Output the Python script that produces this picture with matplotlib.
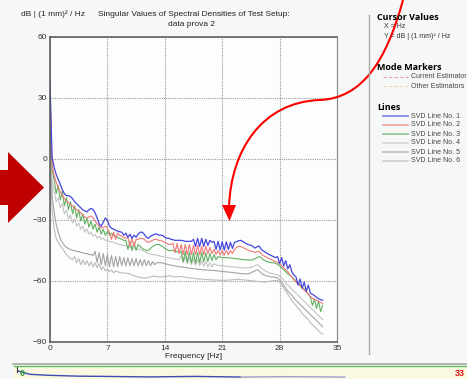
import numpy as np
import matplotlib
matplotlib.use("Agg")
import matplotlib.pyplot as plt
from matplotlib.path import Path
from matplotlib.patches import PathPatch, Polygon
from matplotlib.lines import Line2D

plt.rcParams['font.family'] = ['Liberation Sans', 'DejaVu Sans']

# frequency grid of the spectral lines (Hz)
freq = np.arange(0, 33.5, 0.25)

# singular values, dB | (1 mm)^2 / Hz
svd1 = [38, 1, -4, -7.5, -10, -12.5, -15, -17,
        -18, -18, -18.5, -19.5, -21, -22, -23, -24,
        -25, -25.5, -26, -25, -24.3, -24.8, -26.5, -29,
        -32, -33, -31, -29, -30, -33, -34, -34.5,
        -35, -35.5, -35.8, -36, -37.5, -36.5, -38.5, -37,
        -39, -37.5, -38.5, -37, -36, -36, -37, -38.5,
        -39, -38, -37.5, -37, -36.8, -37.5, -37.4, -37.6,
        -38.5, -39, -39, -39.5, -39.7, -40, -40, -40,
        -40, -40.2, -40.5, -40.5, -40.5, -40.5, -39.5, -43,
        -39, -43, -39, -43, -39.5, -42.5, -40, -41,
        -40.5, -44.5, -40.5, -44.8, -40.7, -44.8, -40.7, -44.5,
        -41, -44, -41, -40.7, -40.2, -40, -40.5, -41.2,
        -41.8, -42.2, -42.4, -43, -43.8, -43.2, -42.8, -44.3,
        -45.2, -45.8, -46.5, -47, -47.5, -48, -48.5, -48,
        -51.5, -48.5, -52.5, -50, -54, -52, -55.5, -57,
        -58, -62, -59, -63.5, -60.5, -65, -62, -66,
        -66.5, -67.2, -68, -68.7, -69.2, -69.5]

svd2 = [30, -3, -8, -11.5, -14, -16, -18, -19.5,
        -20.5, -21.5, -22.5, -23, -24, -25, -25.5, -26.5,
        -27.5, -28.5, -29, -28.5, -28, -29, -30.5, -32,
        -33, -34, -33.5, -33, -34, -36, -39.5, -36,
        -39.5, -36.5, -37.5, -38, -38.5, -39, -38.5, -43,
        -39, -43, -39.5, -39.5, -39, -39, -39.5, -40.5,
        -41, -40.5, -40, -39.5, -39.5, -40, -40, -40.5,
        -41, -41.5, -42, -42, -41.5, -46, -41.5, -46.5,
        -42, -47, -42, -47, -42, -47, -42.5, -47,
        -42.5, -47, -43, -47, -43, -46.5, -43.5, -46.5,
        -44.5, -47, -45, -47.3, -45, -47.3, -45, -47,
        -45, -46.5, -44.5, -43.5, -43, -43, -43.5, -44,
        -44.5, -45, -45.3, -45.5, -46, -45.5, -45.5, -46.5,
        -47.5, -48, -48.5, -49, -49.5, -50, -50.5, -50.8,
        -51.5, -52.5, -53.5, -54.5, -55.5, -57, -58, -59.5,
        -60.5, -61.5, -62.5, -63.5, -64.5, -65.5, -66.5, -67.5,
        -68.5, -69, -69.5, -70, -70.5, -71]

svd3 = [28, -5, -10, -17, -13, -20, -16, -23,
        -19, -25, -21, -27, -23, -29, -25, -30.5,
        -27, -32, -29, -33.5, -30.5, -34.5, -32, -36,
        -33.5, -37, -34.5, -37.5, -35.5, -37.5, -36.5, -37.5,
        -38, -38.5, -39, -39.5, -40, -40, -44.5, -40.5,
        -45, -41, -45, -42, -43, -44, -44.5, -45,
        -45, -44, -43, -42.5, -42, -42, -42.5, -43,
        -44, -44.5, -45, -45, -45, -45.5, -45.5, -46,
        -45.5, -50.5, -45.5, -51, -45.8, -51.2, -46, -51.3,
        -46, -51, -46, -50.5, -46.3, -50.5, -46.5, -50,
        -47, -49.5, -48, -48.3, -48.5, -48.5, -48.5, -48.7,
        -48.7, -48.7, -49, -49, -49.2, -49.3, -49.5, -49.5,
        -49.6, -49.7, -49.7, -49.5, -49, -48.5, -48, -48.5,
        -49.5, -50, -50.5, -50.8, -51, -51, -51.3, -51.8,
        -52.5, -53.5, -54.5, -55.5, -56.5, -57.2, -58, -59,
        -60, -61, -62, -63, -64, -65, -66.5, -68,
        -72, -69, -73.5, -70, -75, -72]

svd4 = [25, -10, -16, -21, -19, -24, -22, -27,
        -25, -29.5, -27.5, -31.5, -29.5, -33, -31.5, -34.5,
        -33, -36, -34.5, -37, -36, -38, -37, -39,
        -38, -39.5, -39, -40, -40.2, -40.5, -40.8, -41,
        -41.5, -41.8, -42, -42.3, -42.5, -42.8, -43, -43.3,
        -43.5, -43.8, -44, -44.3, -44.5, -45, -45.5, -46,
        -46.5, -46.8, -47, -47, -47.3, -47.5, -47.8, -48,
        -48.2, -48.4, -48.6, -48.8, -49, -49.2, -49.4, -49.5,
        -47.5, -51, -48, -51.5, -48.5, -52, -49, -52.3,
        -49.5, -52.5, -50, -52.8, -50.5, -53, -51, -53,
        -51.5, -52, -52.3, -52.5, -52.5, -52.7, -52.8, -53,
        -53, -53, -53.2, -53.3, -53.3, -53.5, -53.5, -53.6,
        -53.6, -53.5, -53.3, -53, -52.5, -52, -52.5, -53.5,
        -54.5, -55, -55.5, -56, -56.3, -56.5, -56.8, -57,
        -57.5, -58.5, -59.5, -61, -62, -63, -64, -65,
        -66, -67, -68, -69, -70, -71, -72, -73,
        -74, -75, -76, -77, -78, -79]

svd5 = [20, -18, -26, -32, -36, -39, -41, -42.5,
        -43.5, -44, -44.5, -45, -45, -45.5, -45.5, -46,
        -46, -46.5, -46.5, -47, -47, -47.5, -45.5, -51,
        -46, -52, -46.5, -52.5, -47, -53, -47.5, -53,
        -48, -53, -48, -52.5, -48.5, -52.5, -48.5, -52.5,
        -49, -52.5, -49, -52.5, -49.5, -52.5, -49.5, -52.5,
        -50, -52.5, -50.5, -52, -51, -51, -51, -51.2,
        -51.5, -51.7, -52, -52.2, -52.4, -52.6, -52.8, -53,
        -53, -53.2, -53.4, -53.5, -53.7, -53.8, -54, -54,
        -54.2, -54.3, -54.4, -54.5, -54.6, -54.6, -54.7, -54.8,
        -54.8, -55, -55, -55.2, -55.3, -55.4, -55.5, -55.6,
        -55.7, -55.8, -56, -56, -56.2, -56.3, -56.4, -56.5,
        -56.5, -56.3, -56, -55.5, -55, -54.5, -55, -56,
        -56.8, -57.2, -57.5, -57.8, -58, -58, -58.2, -58.5,
        -59.5, -60.5, -62, -63.5, -65, -66, -67, -68.5,
        -69.5, -70.5, -71.5, -72.5, -73.5, -74.5, -75.5, -76.5,
        -77.5, -78.5, -79.5, -80.5, -81.5, -82.5]

svd6 = [15, -25, -34, -39, -41, -42.5, -44, -45.5,
        -47, -48, -49, -49.5, -48, -51, -49, -52,
        -49.5, -52, -50, -52.5, -50.5, -53, -51, -53.5,
        -51.5, -54.5, -53, -55, -54, -55.5, -54.5, -56,
        -55, -55.5, -55.8, -56, -56, -56.2, -56.3, -56.5,
        -57, -57.5, -57.8, -58, -58.3, -58.5, -58.6, -58.5,
        -58.3, -58, -57.8, -57.6, -57.8, -58, -58, -58,
        -57.8, -57.6, -57.5, -57.6, -57.8, -58, -58, -57.8,
        -57.8, -58, -58.2, -58.4, -58.5, -58.5, -58.6, -58.8,
        -59, -59, -59, -59.2, -59.3, -59.3, -59.4, -59.5,
        -59.5, -59.5, -59.6, -59.6, -59.7, -59.7, -59.6, -59.5,
        -59.5, -59.4, -59.3, -59.2, -59.2, -59.3, -59.4, -59.5,
        -59.6, -59.7, -59.8, -60, -60, -60.2, -60.3, -60.4,
        -60.5, -60.5, -60.4, -60.2, -60, -59.8, -59.7, -59.8,
        -60.5, -62, -63.5, -65, -66.5, -68, -69.5, -71,
        -72, -73.5, -74.5, -76, -77, -78, -79, -80.5,
        -81.5, -82.5, -83.5, -84.5, -85.5, -86]

line_names = ['SVD Line No. 1', 'SVD Line No. 2', 'SVD Line No. 3',
              'SVD Line No. 4', 'SVD Line No. 5', 'SVD Line No. 6']
line_colors = ['#4646dc', '#f07878', '#62b062', '#c4c4c4', '#a4a4a4', '#bcbcbc']
line_widths = [0.9, 0.8, 0.8, 0.8, 0.8, 0.8]

# overview strip at the bottom (position 0..1, level 0..1)
strip_pos = [0.009, 0.02, 0.035, 0.08, 0.14, 0.2, 0.3, 0.4, 0.5, 0.6, 0.73]
strip_level = [0.62, 0.5, 0.36, 0.28, 0.22, 0.2, 0.16, 0.2, 0.15, 0.18, 0.15]

W, H = 467, 379


def px(x, y):
    # pixel position -> figure fraction
    return x / W, 1 - y / H


fig = plt.figure(figsize=(W / 100, H / 100), dpi=100, facecolor='#f6f7f7')

ax = fig.add_axes([50 / W, 1 - 342 / H, 287 / W, 305 / H], facecolor='#fcfdfd')
series = [svd1, svd2, svd3, svd4, svd5, svd6]
for vals, col, lw in list(zip(series, line_colors, line_widths))[::-1]:
    ax.plot(freq, vals, color=col, lw=lw)

ax.set_xlim(0, 35)
ax.set_ylim(-90, 60)
ax.set_xticks(range(0, 36, 7))
ax.set_yticks(range(-90, 61, 30))
ax.grid(True, color='#9a9a9a', lw=0.8, linestyle=(0, (1, 1)))
ax.tick_params(length=0, labelsize=6, colors='#333333', pad=2)
for side in ['left', 'bottom', 'top']:
    ax.spines[side].set_color('#555555')
    ax.spines[side].set_linewidth(1.1)
ax.spines['right'].set_color('#888888')
ax.set_xlabel('Frequency [Hz]', fontsize=6, labelpad=1, color='#222222')

fig.text(*px(53, 14), 'dB | (1 mm)² / Hz', fontsize=6, ha='center', va='center', color='#222222')
fig.text(*px(194, 14), 'Singular Values of Spectral Densities of Test Setup:',
         fontsize=6, ha='center', va='center', color='#222222')
fig.text(*px(192, 24), 'data prova 2', fontsize=6, ha='center', va='center', color='#222222')

# right hand panel
fig.add_artist(Line2D([369 / W, 369 / W], [1 - 15 / H, 1 - 354 / H], color='#aaaaaa', lw=1))
head_font = ['Open Sans', 'DejaVu Sans']
fig.text(*px(377, 17), 'Cursor Values', fontsize=6.5, fontweight='bold', family=head_font, va='center')
fig.text(*px(384, 27), 'X = Hz', fontsize=5, va='center', color='#333333')
fig.text(*px(384, 36), 'Y = dB | (1 mm)² / Hz', fontsize=5, va='center', color='#333333')
fig.text(*px(377, 67), 'Mode Markers', fontsize=6.5, fontweight='bold', family=head_font, va='center')
marker_rows = [('Current Estimator', '#e8a0b0', 77), ('Other Estimators', '#f0d4a8', 86)]
for label, col, y in marker_rows:
    fig.add_artist(Line2D([383 / W, 408 / W], [1 - y / H] * 2, color=col, lw=0.8, linestyle=(0, (3, 2))))
    fig.text(*px(411, y), label, fontsize=5, va='center', color='#444444')
fig.text(*px(377, 107), 'Lines', fontsize=6.5, fontweight='bold', family=head_font, va='center')
for i, (label, col) in enumerate(zip(line_names, line_colors)):
    y = 116 + i * 9
    fig.add_artist(Line2D([383 / W, 408 / W], [1 - y / H] * 2, color=col, lw=1.2, alpha=0.7))
    fig.text(*px(411, y), label, fontsize=5, va='center', color='#444444')

# bottom overview strip
fig.add_artist(Line2D([13 / W, 1], [1 - 364 / H] * 2, color='#a8a8a8', lw=1.2))
sax = fig.add_axes([14 / W, 0, 453 / W, 13 / H], facecolor='#fbf8e2')
sax.set_xlim(0, 1)
sax.set_ylim(0, 1)
sax.set_xticks([])
sax.set_yticks([])
for side in ['left', 'right', 'bottom']:
    sax.spines[side].set_visible(False)
sax.spines['top'].set_color('#5cbf5c')
sax.spines['top'].set_linewidth(1)
sax.plot(strip_pos[:9], strip_level[:9], color='#3c4cb0', lw=1)
sax.plot(strip_pos[8:], strip_level[8:], color='#9aa0c8', lw=1)
sax.plot([0.007, 0.007], [0.55, 0.95], color='#333333', lw=0.8)
sax.text(0.012, 0.4, '0', fontsize=6.5, fontweight='bold', color='#2f9a2f', va='center')
sax.text(0.995, 0.4, '33', fontsize=6.5, fontweight='bold', color='#dd1111', va='center', ha='right')

# block arrow on the left
block = [(0, 170), (8, 170), (8, 152), (44, 187.5), (8, 223), (8, 205), (0, 205)]
fig.add_artist(Polygon([px(x, y) for x, y in block], closed=True, transform=fig.transFigure,
                       facecolor='#c00000', edgecolor='none'))

# curved pointer arrow
pts = [(403, 0), (386, 62), (362, 98), (320, 100),
       (262, 102), (231, 150), (229, 207)]
codes = [Path.MOVETO] + [Path.CURVE4] * 6
curve = Path([px(x, y) for x, y in pts], codes)
fig.add_artist(PathPatch(curve, transform=fig.transFigure, facecolor='none',
                         edgecolor='#ff0000', lw=1.5))
head = [(222, 205), (236, 205), (229.5, 221)]
fig.add_artist(Polygon([px(x, y) for x, y in head], closed=True, transform=fig.transFigure,
                       facecolor='#ff0000', edgecolor='none'))

fig.savefig('out.png', dpi=100, facecolor=fig.get_facecolor())
